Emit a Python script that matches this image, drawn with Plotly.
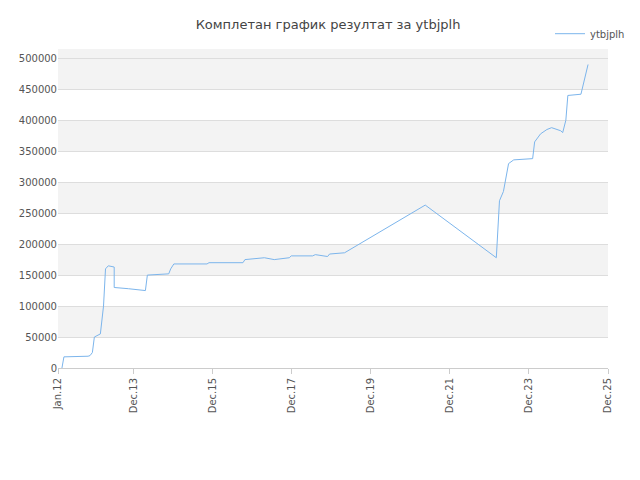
import plotly.graph_objects as go
import pandas as pd

# decimal years and scores
years = [2012.10, 2012.15, 2012.76, 2012.81, 2012.87, 2012.92, 2013.07, 2013.15, 2013.20, 2013.27,
         2013.42, 2013.42, 2013.78, 2014.21, 2014.26, 2014.80, 2014.85, 2014.93, 2015.77, 2015.82,
         2016.68, 2016.73, 2017.22, 2017.47, 2017.85, 2017.90, 2018.44, 2018.51, 2018.82, 2018.87,
         2019.25, 2021.29, 2023.09, 2023.14, 2023.17, 2023.27, 2023.35, 2023.40, 2023.53, 2024.01,
         2024.06, 2024.21, 2024.37, 2024.49, 2024.72, 2024.77, 2024.85, 2024.90, 2025.23, 2025.28,
         2025.33, 2025.41]
values = [0, 18000, 19000, 20000, 25000, 50000, 55000, 100000, 160000, 165000,
          163000, 130000, 128000, 125000, 150000, 152000, 160000, 168000, 168000, 170000,
          170000, 175000, 178000, 175000, 178000, 181000, 181000, 183000, 180000, 184000,
          186000, 263000, 178000, 225000, 270000, 285000, 310000, 330000, 336000, 338000,
          365000, 378000, 385000, 388000, 383000, 380000, 400000, 440000, 442000, 455000,
          465000, 490000]

def to_date(y):
    y0 = int(y)
    return pd.Timestamp(year=y0, month=1, day=1) + pd.Timedelta(days=(y - y0) * 365.25)

dates = [to_date(y) for y in years]

fig = go.Figure(go.Scatter(x=dates, y=values, mode="lines", name="ytbjplh",
                           line=dict(color="#7cb5ec", width=1)))

bands = []
for lo in [50000, 150000, 250000, 350000, 450000]:
    bands.append(dict(type="rect", xref="paper", x0=0, x1=1, y0=lo, y1=lo + 50000,
                      fillcolor="#f3f3f3", line_width=0, layer="below"))
bands.append(dict(type="rect", xref="paper", yref="paper", x0=0, x1=1, y0=500000 / 515000, y1=1,
                  fillcolor="#f3f3f3", line_width=0, layer="below"))

ticks = ["2012-01-01", "2013-12-01", "2015-12-01", "2017-12-01", "2019-12-01",
         "2021-12-01", "2023-12-01", "2025-12-01"]
tick_labels = ["Jan.12", "Dec.13", "Dec.15", "Dec.17", "Dec.19", "Dec.21", "Dec.23", "Dec.25"]

fig.update_layout(
    width=640, height=480, paper_bgcolor="white", plot_bgcolor="white",
    font=dict(family="DejaVu Sans", size=10, color="#555"),
    title=dict(text="Комплетан график резултат за ytbjplh", x=0.5, xanchor="center", y=0.975,
               font=dict(size=13, color="#444")),
    margin=dict(l=50, r=40, t=40, b=120),
    shapes=bands,
    showlegend=True,
    legend=dict(x=1.04, y=1.09, xanchor="right", yanchor="top", bgcolor="rgba(0,0,0,0)"),
    xaxis=dict(range=["2012-01-01", "2025-12-01"], tickvals=ticks, ticktext=tick_labels,
               tickangle=-90, showgrid=False, showline=True, linecolor="#ccc", ticks="outside",
               tickcolor="#ccc", automargin=False),
    yaxis=dict(range=[0, 515000], tickvals=list(range(0, 500001, 50000)),
               tickformat="d", showgrid=True, gridcolor="#ddd", zeroline=False, automargin=False),
)
fig.write_html("out.html")
